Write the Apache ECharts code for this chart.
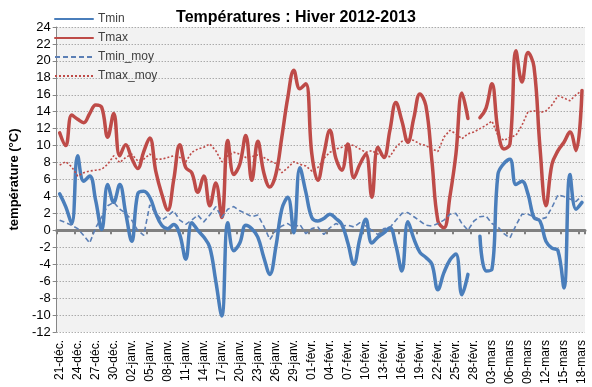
<!DOCTYPE html>
<html><head><meta charset="utf-8">
<script src="https://cdn.jsdelivr.net/npm/echarts@6/dist/echarts.min.js"></script>
<style>html,body{margin:0;padding:0;background:#fff}#c{width:592px;height:387px}</style>
</head><body><div id="c"></div>
<script>
const categories = [
 "21-déc.","22-déc.","23-déc.","24-déc.","25-déc.","26-déc.","27-déc.","28-déc.","29-déc.","30-déc.","31-déc.",
 "01-janv.","02-janv.","03-janv.","04-janv.","05-janv.","06-janv.","07-janv.","08-janv.","09-janv.","10-janv.",
 "11-janv.","12-janv.","13-janv.","14-janv.","15-janv.","16-janv.","17-janv.","18-janv.","19-janv.","20-janv.",
 "21-janv.","22-janv.","23-janv.","24-janv.","25-janv.","26-janv.","27-janv.","28-janv.","29-janv.","30-janv.","31-janv.",
 "01-févr.","02-févr.","03-févr.","04-févr.","05-févr.","06-févr.","07-févr.","08-févr.","09-févr.","10-févr.",
 "11-févr.","12-févr.","13-févr.","14-févr.","15-févr.","16-févr.","17-févr.","18-févr.","19-févr.","20-févr.",
 "21-févr.","22-févr.","23-févr.","24-févr.","25-févr.","26-févr.","27-févr.","28-févr.",
 "01-mars","02-mars","03-mars","04-mars","05-mars","06-mars","07-mars","08-mars","09-mars","10-mars",
 "11-mars","12-mars","13-mars","14-mars","15-mars","16-mars","17-mars","18-mars"
];
const tmin = [
 4.3,2.8,0.8,8.8,5.8,6.4,3.5,0.1,5.4,3.3,5.4,
 2.0,-1.3,4.3,4.6,3.9,2.0,0.6,0.2,0.7,-0.5,
 -3.4,0.9,0.0,-0.8,-2.0,-6.0,-10.1,0.9,-2.4,-1.5,
 0.6,0.2,-0.8,-3.2,-5.2,-2.0,2.5,3.9,-0.3,7.4,4.5,
 1.5,1.1,1.4,1.9,1.4,0.7,-1.5,-4.0,-1.0,1.3,
 -1.5,-0.8,-0.3,0.3,-1.8,-4.8,1.0,-1.0,-2.6,-3.2,
 -4.0,-7.0,-5.0,-3.5,-2.8,-7.6,-5.2,null,
 -0.7,-4.8,-4.6,6.6,7.9,8.4,5.4,5.8,4.3,1.5,
 1.1,-1.3,-2.1,-2.4,-6.8,6.6,2.5,3.3
];
const tmax = [
 11.5,10.0,13.6,13.1,12.7,13.8,14.8,14.5,11.0,13.8,8.8,
 10.1,8.5,7.3,9.3,10.9,7.0,4.3,2.4,6.0,10.1,
 7.4,6.8,4.5,6.4,2.9,5.6,1.5,10.6,6.6,7.8,
 11.2,5.9,10.5,6.8,5.1,6.6,11.0,15.7,18.9,16.7,17.3,
 9.0,5.9,9.0,11.8,8.5,7.1,10.2,6.2,7.8,9.0,
 3.9,9.8,8.6,11.8,15.1,12.9,10.4,13.3,16.1,14.7,
 8.2,1.1,0.3,4.0,9.0,16.2,13.2,null,
 13.3,14.4,17.3,11.8,9.6,10.2,21.2,17.5,21.0,19.3,
 9.8,2.9,7.8,9.4,10.4,11.6,9.4,16.5
];
const tminMoy = [
 1.2,0.9,0.6,0.2,-0.6,-1.5,0.3,1.6,2.9,3.3,2.5,
 2.0,1.2,0.0,-0.6,3.0,2.0,1.2,1.7,2.3,1.2,
 0.7,1.2,1.8,1.0,1.8,2.8,1.5,2.5,2.8,2.3,
 2.0,1.6,1.8,0.5,-1.1,0.0,0.5,0.8,0.3,0.7,-0.4,
 0.2,0.4,-0.5,0.3,0.8,0.5,0.6,0.4,0.9,0.5,
 0.0,-0.5,0.2,0.3,1.2,2.0,2.1,1.6,1.1,0.6,
 0.5,0.8,1.2,1.9,2.0,0.8,0.0,1.1,
 1.6,1.7,0.8,0.4,-0.4,-0.9,0.6,1.9,1.9,1.6,
 1.3,1.5,2.7,4.2,4.0,3.7,3.4,4.1
];
const tmaxMoy = [
 7.7,8.1,7.5,6.4,6.8,7.0,7.1,7.2,7.8,8.8,8.0,
 8.6,9.0,8.2,8.4,9.0,8.4,8.4,8.6,8.8,8.6,
 8.1,9.2,9.6,9.8,10.2,9.4,8.1,8.8,9.2,9.0,
 8.6,8.7,8.9,8.6,8.2,7.9,6.8,7.4,8.1,7.8,7.6,
 7.0,7.4,8.5,9.2,9.6,9.8,10.2,10.0,9.6,9.2,
 9.4,9.0,8.8,8.7,9.8,10.5,10.8,10.6,10.2,10.0,
 9.6,9.3,11.0,11.8,11.4,10.8,11.4,11.6,
 12.0,12.4,12.9,11.2,10.6,11.0,11.2,12.4,14.0,14.1,
 13.9,14.1,14.8,15.9,15.6,15.3,16.0,16.5
];
const seriesNames = ["Tmin","Tmax","Tmin_moy","Tmax_moy"];
const yTicks = {min:-12, max:24, step:2};

const FONT = '"Liberation Sans", Arial, sans-serif';
const chart = echarts.init(document.getElementById('c'), null, {renderer:'canvas'});
const option = {
  animation:false,
  backgroundColor:'#ffffff',
  title:{
    text:'Températures : Hiver 2012-2013',
    left:'center', top:5,
    textStyle:{fontFamily:FONT, fontWeight:'bold', fontSize:16, color:'#000'}
  },
  legend:{
    data:seriesNames, orient:'vertical', left:49, top:8,
    itemWidth:38, itemHeight:12, itemGap:7,
    itemStyle:{opacity:0},
    textStyle:{fontFamily:FONT, fontSize:12, color:'#404040'}
  },
  grid:{left:40, top:27, width:545, height:305, show:true, backgroundColor:'#f2f2f2', borderWidth:0},
  xAxis:[
    {type:'category', data:categories, boundaryGap:true, position:'bottom',
     axisLine:{show:false, onZero:false}, axisTick:{show:false},
     axisLabel:{interval:2, rotate:90, fontFamily:FONT, fontSize:12, color:'#000', margin:8},
     splitLine:{show:false}},
    {type:'category', data:categories, boundaryGap:true, position:'top',
     axisLine:{show:true, onZero:true, lineStyle:{color:'#808080', width:3}},
     axisTick:{show:true, interval:2, inside:true, length:4, lineStyle:{color:'#808080', width:2}},
     axisLabel:{show:false}, splitLine:{show:false}}
  ],
  yAxis:{
    type:'value', min:yTicks.min, max:yTicks.max, interval:yTicks.step,
    name:'température (°C)', nameLocation:'middle', nameGap:28,
    nameTextStyle:{fontFamily:FONT, fontWeight:'bold', fontSize:13, color:'#000'},
    axisLine:{show:true, lineStyle:{color:'#868686', width:1}},
    axisTick:{show:true, length:4, lineStyle:{color:'#868686'}},
    axisLabel:{fontFamily:FONT, fontSize:13, color:'#000', margin:6},
    splitLine:{show:true, lineStyle:{color:'#8a8a8a', type:[1,2], width:1}}
  },
  series:[
    {name:'Tmin', type:'line', data:tmin, smooth:0.4, symbol:'none', connectNulls:false,
     lineStyle:{color:'#4a7ebb', width:3.5, cap:'round', join:'round'}, itemStyle:{color:'#4a7ebb'}, z:4},
    {name:'Tmax', type:'line', data:tmax, smooth:0.4, symbol:'none', connectNulls:false,
     lineStyle:{color:'#be4b48', width:3.5, cap:'round', join:'round'}, itemStyle:{color:'#be4b48'}, z:3},
    {name:'Tmin_moy', type:'line', data:tminMoy, smooth:false, symbol:'none',
     lineStyle:{color:'#5b7fb5', width:1.6, type:[5,3]}, itemStyle:{color:'#5b7fb5'}, z:5},
    {name:'Tmax_moy', type:'line', data:tmaxMoy, smooth:false, symbol:'none',
     lineStyle:{color:'#be4b48', width:1.6, type:[2,2]}, itemStyle:{color:'#be4b48'}, z:5}
  ]
};
chart.setOption(option);
</script></body></html>
